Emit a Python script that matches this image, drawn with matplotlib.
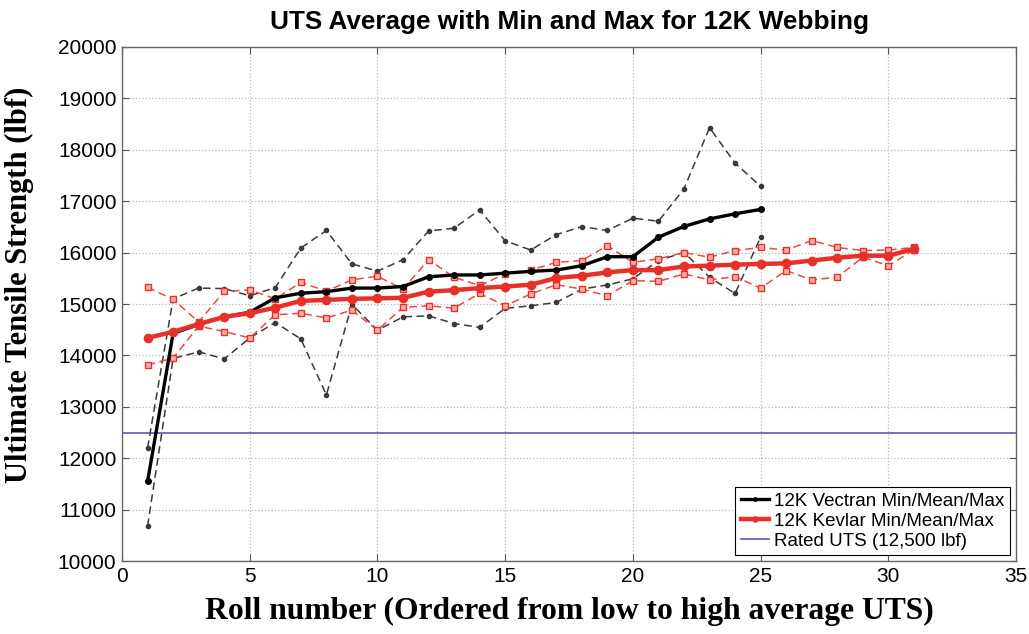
import numpy as np
import matplotlib
matplotlib.use("Agg")
import matplotlib.pyplot as plt

# roll numbers
x_vec = np.arange(1, 26)
x_kev = np.arange(1, 32)

# 12K Vectran (lbf)
vec_mean = [11550, 14430, 14600, 14750, 14840, 15120, 15210, 15240, 15310, 15310,
            15340, 15530, 15565, 15565, 15600, 15635, 15660, 15745, 15920, 15920,
            16300, 16510, 16655, 16755, 16840]
vec_max = [12200, 15100, 15310, 15300, 15160, 15320, 16090, 16430, 15780, 15640,
           15860, 16420, 16475, 16830, 16230, 16050, 16350, 16505, 16430, 16670,
           16610, 17240, 18430, 17740, 17290]
vec_min = [10680, 13940, 14070, 13930, 14340, 14640, 14320, 13230, 14990, 14490,
           14750, 14770, 14620, 14545, 14915, 14965, 15030, 15290, 15370, 15490,
           15845, 16005, 15520, 15205, 16300]

# 12K Kevlar (lbf)
kev_mean = [14340, 14460, 14610, 14750, 14820, 14930, 15060, 15080, 15100, 15110,
            15120, 15240, 15270, 15310, 15340, 15375, 15505, 15550, 15615, 15660,
            15660, 15730, 15745, 15765, 15780, 15790, 15845, 15900, 15940, 15940,
            16070]
kev_max = [15325, 15090, 14650, 15245, 15275, 15100, 15420, 15250, 15470, 15540,
           15290, 15860, 15520, 15360, 15585, 15660, 15810, 15845, 16135, 15810,
           15880, 16000, 15910, 16040, 16100, 16050, 16235, 16100, 16040, 16050,
           16100]
kev_min = [13815, 13950, 14570, 14465, 14340, 14790, 14820, 14730, 14880, 14490,
           14935, 14965, 14920, 15205, 14965, 15195, 15375, 15290, 15160, 15455,
           15440, 15585, 15470, 15530, 15310, 15650, 15470, 15520, 15910, 15745,
           16050]

rated_uts = 12500

red = '#e8302a'
gray = '#3a3a3a'

fig = plt.figure(figsize=(10.29, 6.34), dpi=100)
ax = fig.add_axes([0.1186, 0.1151, 0.8688, 0.8108])

# min / max dashed
ax.plot(x_vec, vec_max, '--', color=gray, lw=1.1, marker='o', ms=3, dashes=(5, 3), zorder=3)
ax.plot(x_vec, vec_min, '--', color=gray, lw=1.1, marker='o', ms=3, dashes=(5, 3), zorder=3)
ax.plot(x_kev, kev_max, '--', color='#ea4a40', lw=1.1, marker='s', ms=4, dashes=(5, 3),
        mfc='#f6b0aa', mec='#e8302a', zorder=4)
ax.plot(x_kev, kev_min, '--', color='#ea4a40', lw=1.1, marker='s', ms=4, dashes=(5, 3),
        mfc='#f6b0aa', mec='#e8302a', zorder=4)

# means
ax.plot(x_vec, vec_mean, '-', color='black', lw=2.4, marker='o', ms=4,
        label='12K Vectran Min/Mean/Max', zorder=5)
ax.plot(x_kev, kev_mean, '-', color=red, lw=3.2, marker='o', ms=6,
        label='12K Kevlar Min/Mean/Max', zorder=6)
ax.axhline(rated_uts, color='#5a5ab8', lw=1.2, label='Rated UTS (12,500 lbf)', zorder=2)

ax.set_xlim(0, 35)
ax.set_ylim(10000, 20000)
ax.set_xticks(np.arange(0, 36, 5))
ax.set_yticks(np.arange(10000, 20001, 1000))
ax.grid(True, linestyle=':', color='#b8b8b8', lw=0.9)
ax.tick_params(direction='in', top=True, right=True, length=5, color='#555555',
               labelsize=15, pad=4)
for lab in ax.get_xticklabels() + ax.get_yticklabels():
    lab.set_fontfamily('Liberation Sans')
for s in ax.spines.values():
    s.set_color('#666666')
    s.set_linewidth(1.0)

ax.set_title('UTS Average with Min and Max for 12K Webbing', fontsize=18.8,
             fontweight='bold', family='Liberation Sans', pad=13)
ax.set_xlabel('Roll number (Ordered from low to high average UTS)', fontsize=22.8,
              fontweight='bold', family='Liberation Serif', labelpad=8)
ax.set_ylabel('Ultimate Tensile Strength (lbf)', fontsize=22,
              fontweight='bold', family='Liberation Serif')
ax.yaxis.set_label_coords(-0.099, 0.537)

leg = ax.legend(loc='lower right', prop={'family': 'Liberation Sans', 'size': 13.5},
                handlelength=1.5, handletextpad=0.3, borderaxespad=0.3,
                fancybox=False, framealpha=1, borderpad=0.3, labelspacing=0.15,
                markerscale=0.6)
leg.get_frame().set_edgecolor('black')
leg.get_frame().set_linewidth(0.8)

fig.savefig('out.png', dpi=100)
